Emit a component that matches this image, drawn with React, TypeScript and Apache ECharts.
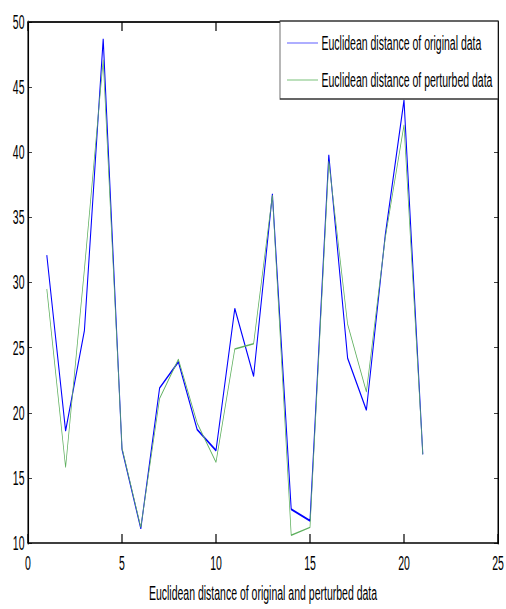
import React, { useEffect, useRef } from "react";
import * as echarts from "echarts";

const xs = [1, 2, 3, 4, 5, 6, 7, 8, 9, 10, 11, 12, 13, 14, 15, 16, 17, 18, 19, 20, 21];
const original = [32.1, 18.6, 26.3, 48.7, 17.2, 11.1, 21.9, 23.9, 18.7, 17.1, 28.0, 22.8, 36.8, 12.6, 11.7, 39.8, 24.2, 20.2, 33.6, 44.0, 16.8];
const perturbed = [29.5, 15.8, 31.0, 47.1, 17.3, 11.2, 21.1, 24.1, 19.2, 16.2, 24.9, 25.3, 36.7, 10.6, 11.2, 39.3, 26.8, 21.6, 33.4, 42.1, 16.8];
const seriesNames = ["Euclidean distance of original data", "Euclidean distance of perturbed data"];
const xTitle = "Euclidean distance of original and perturbed data";

const S = 0.5; // horizontal squeeze of the whole figure
const W = Math.round(506 / S);
const H = 609;
const FONT = "'Liberation Sans', Arial, sans-serif";
const FS = 21;
const BLUE = "#0000ff";
const GREEN = "#5fb05f";

export default function App() {
  const ref = useRef<HTMLDivElement>(null);
  useEffect(() => {
    if (!ref.current) return;
    const chart = echarts.init(ref.current, undefined, { renderer: "svg" });
    const sx = (v: number) => v / S;
    const legendX = sx(280);
    const legendW = sx(218);
    const axisCommon = {
      type: "value" as const,
      splitLine: { show: false },
    };
    chart.setOption({
      animation: false,
      backgroundColor: "#ffffff",
      textStyle: { fontFamily: FONT },
      grid: { left: sx(28), right: sx(8), top: 22, bottom: 63, containLabel: false },
      xAxis: [
        {
          ...axisCommon,
          position: "bottom",
          min: 0,
          max: 25,
          interval: 5,
          axisLine: { show: true, onZero: false, lineStyle: { color: "#000", width: 1.6 } },
          axisTick: { show: true, inside: true, length: 9, lineStyle: { color: "#000", width: 2.4 } },
          axisLabel: { color: "#000", fontSize: FS, fontFamily: FONT, margin: 10 },
          name: xTitle,
          nameLocation: "middle",
          nameGap: 40,
          nameTextStyle: { color: "#000", fontSize: FS, fontFamily: FONT },
        },
        {
          ...axisCommon,
          position: "top",
          min: 0,
          max: 25,
          interval: 5,
          axisLine: { show: true, onZero: false, lineStyle: { color: "#222", width: 1.8 } },
          axisTick: { show: true, inside: true, length: 9, lineStyle: { color: "#000", width: 2.4 } },
          axisLabel: { show: false },
        },
      ],
      yAxis: [
        {
          ...axisCommon,
          position: "left",
          min: 10,
          max: 50,
          interval: 5,
          axisLine: { show: true, onZero: false, lineStyle: { color: "#000", width: 3.2 } },
          axisTick: { show: true, inside: true, length: 8, lineStyle: { color: "#000", width: 1 } },
          axisLabel: { color: "#000", fontSize: FS, fontFamily: FONT, margin: 7 },
        },
        {
          ...axisCommon,
          position: "right",
          min: 10,
          max: 50,
          interval: 5,
          axisLine: { show: true, onZero: false, lineStyle: { color: "#000", width: 3 } },
          axisTick: { show: true, inside: true, length: 8, lineStyle: { color: "#000", width: 1 } },
          axisLabel: { show: false },
        },
      ],
      series: [
        {
          name: seriesNames[0],
          type: "line",
          data: xs.map((x, i) => [x, original[i]]),
          showSymbol: false,
          symbol: "none",
          lineStyle: { color: BLUE, width: 2.1 },
          itemStyle: { color: BLUE },
        },
        {
          name: seriesNames[1],
          type: "line",
          data: xs.map((x, i) => [x, perturbed[i]]),
          showSymbol: false,
          symbol: "none",
          lineStyle: { color: GREEN, width: 1.5 },
          itemStyle: { color: GREEN },
        },
      ],
      graphic: [
        {
          type: "rect",
          shape: { x: legendX, y: 21, width: legendW, height: 78 },
          style: { fill: "#fff", stroke: "#333", lineWidth: 1.4 },
          z: 100,
        },
        {
          type: "line",
          shape: { x1: sx(287), y1: 43, x2: sx(318), y2: 43 },
          style: { stroke: "#7777ff", lineWidth: 1.2 },
          z: 101,
        },
        {
          type: "line",
          shape: { x1: sx(287), y1: 80, x2: sx(318), y2: 80 },
          style: { stroke: "#8fcc8f", lineWidth: 1.2 },
          z: 101,
        },
        {
          type: "text",
          x: sx(321.5),
          y: 43,
          style: { text: seriesNames[0], fill: "#000", font: `${FS}px ${FONT}`, verticalAlign: "middle" },
          z: 101,
        },
        {
          type: "text",
          x: sx(321.5),
          y: 80,
          style: { text: seriesNames[1], fill: "#000", font: `${FS}px ${FONT}`, verticalAlign: "middle" },
          z: 101,
        },
      ],
    });
    return () => chart.dispose();
  }, []);
  return (
    <div
      ref={ref}
      style={{
        position: "absolute",
        left: 0,
        top: 0,
        width: W + "px",
        height: H + "px",
        transform: `scaleX(${S})`,
        transformOrigin: "0 0",
      }}
    />
  );
}
